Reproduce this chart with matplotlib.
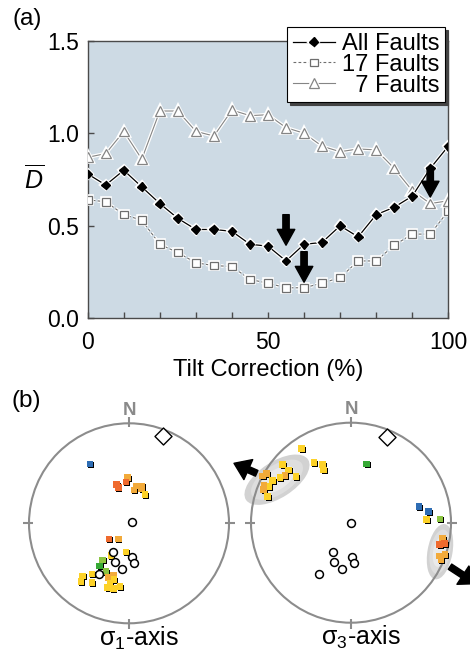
import numpy as np
import matplotlib
matplotlib.use('Agg')
import matplotlib.pyplot as plt
import matplotlib.patheffects as pe
from matplotlib.patches import Circle, Ellipse
from matplotlib.transforms import offset_copy

plt.rcParams['font.family'] = ['Liberation Sans', 'DejaVu Sans']
plt.rcParams['mathtext.fontset'] = 'custom'
plt.rcParams['mathtext.rm'] = 'Liberation Sans'
plt.rcParams['mathtext.it'] = 'Liberation Sans:italic'

# (a) mean misfit vs tilt correction
tilt = [0, 5, 10, 15, 20, 25, 30, 35, 40, 45, 50, 55, 60, 65, 70, 75, 80, 85, 90, 95, 100]
all_faults = [0.78, 0.72, 0.80, 0.71, 0.62, 0.54, 0.48, 0.48, 0.47, 0.40, 0.39, 0.31,
              0.40, 0.41, 0.50, 0.44, 0.56, 0.60, 0.66, 0.81, 0.93]
f17 = [0.64, 0.63, 0.56, 0.53, 0.40, 0.355, 0.30, 0.285, 0.28, 0.21, 0.19, 0.165,
       0.165, 0.19, 0.22, 0.31, 0.31, 0.395, 0.455, 0.455, 0.58]
f7 = [0.87, 0.89, 1.01, 0.86, 1.12, 1.12, 1.01, 0.985, 1.125, 1.095, 1.10, 1.03,
      1.00, 0.93, 0.90, 0.915, 0.91, 0.81, 0.69, 0.62, 0.635]
arrow_x = [55, 60, 95]
arrow_top = [0.56, 0.36, 0.815]
arrow_tip = [0.395, 0.195, 0.655]

# (b) stereonet points, unit circle
colors = {'y': '#fdd228', 'o': '#f2aa3a', 'r': '#ef6a2e', 'b': '#2e6db4',
          'g': '#36a935', 'lg': '#8bc541'}
s1_x = [-0.39, -0.013, -0.123, -0.107, -0.03, 0.07, 0.13, 0.05, 0.127, 0.16,
        -0.20, -0.107, -0.03, -0.18, -0.263, -0.293, -0.23, -0.37, -0.463, -0.48,
        -0.37, -0.157, -0.207, -0.15, -0.19, -0.217, -0.157, -0.09]
s1_y = [0.593, 0.457, 0.39, 0.36, 0.413, 0.373, 0.373, 0.333, 0.343, 0.29,
        -0.157, -0.157, -0.287, -0.323, -0.367, -0.427, -0.483, -0.507, -0.527, -0.583,
        -0.593, -0.517, -0.543, -0.56, -0.60, -0.643, -0.65, -0.633]
s1_c = ['b', 'o', 'r', 'r', 'r', 'o', 'o', 'o', 'o', 'y',
        'r', 'o', 'y', 'y', 'lg', 'g', 'lg', 'y', 'y', 'y',
        'y', 'o', 'o', 'y', 'y', 'y', 'y', 'y']
s1_open_x = [0.027, -0.157, -0.14, 0.03, 0.05, -0.07, -0.297]
s1_open_y = [0.01, -0.283, -0.387, -0.333, -0.393, -0.46, -0.51]

s3_x = [-0.493, -0.37, -0.287, -0.277, 0.157, -0.687, -0.627, -0.66, -0.71, -0.55,
        -0.843, -0.883, -0.787, -0.82, -0.87, -0.877, -0.837, 0.68, 0.773, 0.757,
        0.89, 0.917, 0.883, 0.933, 0.883, 0.94, 0.90]
s3_y = [0.743, 0.60, 0.583, 0.527, 0.587, 0.583, 0.527, 0.47, 0.45, 0.46,
        0.493, 0.467, 0.42, 0.36, 0.37, 0.333, 0.26, 0.16, 0.11, 0.033,
        0.037, -0.157, -0.217, -0.21, -0.333, -0.317, -0.373]
s3_c = ['y', 'y', 'y', 'y', 'g', 'y', 'y', 'o', 'y', 'y',
        'o', 'o', 'y', 'y', 'o', 'o', 'y', 'b', 'b', 'y',
        'lg', 'o', 'r', 'r', 'o', 'o', 'o']
s3_open_x = [0.003, -0.177, 0.01, -0.167, 0.03, -0.09, -0.32]
s3_open_y = [0.0, -0.29, -0.34, -0.39, -0.40, -0.467, -0.513]

diamond_pos = [(0.343, 0.877), (0.363, 0.86)]
# s3 extension directions: (tail, tip)
s3_arrows = [((-0.943, 0.494), (-1.17, 0.594)), ((0.99, -0.44), (1.25, -0.61))]
s3_blobs = [((-0.74, 0.43), 0.74, 0.36, 33), ((0.89, -0.29), 0.56, 0.25, 80)]

fig = plt.figure(figsize=(4.7, 6.55), dpi=100)

ax = fig.add_axes([0.1866, 0.514, 0.7672, 0.4239])
ax.set_facecolor('#cddae4')
halo = [pe.withStroke(linewidth=2.6, foreground='white')]
ax.plot(tilt, all_faults, '-', color='black', lw=0.9, marker='D', ms=4.5,
        mfc='black', mec='black', label='All Faults', path_effects=halo, zorder=4)
ax.plot(tilt, f17, '--', color='#6e6e6e', lw=0.8, dashes=(2.5, 2), marker='s', ms=5.5,
        mfc='white', mec='#6e6e6e', mew=0.9, label='17 Faults', path_effects=halo, zorder=3)
ax.plot(tilt, f7, '-', color='#858585', lw=0.8, marker='^', ms=7,
        mfc='white', mec='#858585', mew=0.9, label='  7 Faults', path_effects=halo, zorder=3)

for xa, yt, yb in zip(arrow_x, arrow_top, arrow_tip):
    ax.annotate('', xy=(xa, yb), xytext=(xa, yt),
                arrowprops=dict(arrowstyle='simple,head_length=0.95,head_width=1.05,tail_width=0.38',
                                mutation_scale=12, color='black', shrinkA=0, shrinkB=0),
                zorder=6)

ax.set_xlim(0, 100)
ax.set_ylim(0, 1.5)
ax.set_xticks(np.arange(0, 101, 10))
ax.set_xticklabels(['0', '', '', '', '', '50', '', '', '', '', '100'])
ax.set_yticks([0, 0.5, 1.0, 1.5])
ax.set_yticklabels(['0.0', '0.5', '1.0', '1.5'])
ax.tick_params(direction='in', length=4.5, width=1, color='#4a4a4a', labelsize=16.5)
ax.tick_params(axis='x', pad=9)
ax.tick_params(axis='y', pad=6)
for sp in ax.spines.values():
    sp.set_color('#4a4a4a')
    sp.set_linewidth(1.0)
ax.set_xlabel('Tilt Correction (%)', fontsize=17, labelpad=4)
ax.set_ylabel(r'$\overline{D}$', fontsize=18, rotation=0, va='center', ha='center')
ax.yaxis.set_label_coords(-0.149, 0.5)

leg = ax.legend(loc='upper right', bbox_to_anchor=(0.9468, 0.9588),
                bbox_transform=fig.transFigure, borderaxespad=0, fontsize=17,
                fancybox=False, framealpha=1, edgecolor='black',
                shadow={'color': '#444444', 'alpha': 1},
                labelspacing=-0.05, handlelength=1.75, handletextpad=0.3,
                borderpad=0.25)
leg.get_frame().set_linewidth(0.8)
leg.set_zorder(10)

fig.text(27 / 470, 1 - 19 / 655, '(a)', fontsize=17.5, ha='center', va='center')
fig.text(26 / 470, 1 - 401 / 655, '(b)', fontsize=17.5, ha='center', va='center')


def stereonet(axs, xs, ys, cs, ox, oy, diamond, label):
    axs.set_xlim(-1.2, 1.2)
    axs.set_ylim(-1.2, 1.2)
    axs.set_aspect('equal')
    axs.axis('off')
    axs.add_patch(Circle((0, 0), 1, fill=False, ec='#8c8c8c', lw=1.5, zorder=3))
    for ang in [0, 90, 180, 270]:
        a = np.deg2rad(ang)
        axs.plot([0.96 * np.cos(a), 1.06 * np.cos(a)], [0.96 * np.sin(a), 1.06 * np.sin(a)],
                 color='#8c8c8c', lw=1.5, zorder=3, solid_capstyle='butt')
    axs.text(0, 1.13, 'N', fontsize=13.5, fontweight='bold', color='#8a8a8a',
             ha='center', va='center')
    shadow_tr = offset_copy(axs.transData, fig=fig, x=1.2, y=-1.2, units='dots')
    axs.scatter(xs, ys, s=25, marker='s', c='black', linewidths=0, transform=shadow_tr, zorder=4)
    axs.scatter(xs, ys, s=25, marker='s', c=[colors[c] for c in cs], linewidths=0, zorder=5)
    axs.scatter(ox, oy, s=32, marker='o', facecolors='white', edgecolors='black',
                linewidths=1.1, zorder=6)
    axs.scatter([diamond[0]], [diamond[1]], s=75, marker='D', facecolors='white',
                edgecolors='black', linewidths=1.0, zorder=6)
    axs.text(0.1, -1.15, label, fontsize=18, ha='center', va='center')


ax1 = fig.add_axes([9 / 470, 1 - 643.3 / 655, 240 / 470, 240 / 655])
stereonet(ax1, s1_x, s1_y, s1_c, s1_open_x, s1_open_y, diamond_pos[0], 'σ$_1$-axis')

ax3 = fig.add_axes([231 / 470, 1 - 642.7 / 655, 240 / 470, 240 / 655])
for (cx, cy), w, h, ang in s3_blobs:
    for k, col in zip([1.0, 0.8, 0.55], ['#d2d2d2', '#dedede', '#eaeaea']):
        ax3.add_patch(Ellipse((cx, cy), w * k, h * k, angle=ang, fc=col, ec='none', zorder=1))
stereonet(ax3, s3_x, s3_y, s3_c, s3_open_x, s3_open_y, diamond_pos[1], 'σ$_3$-axis')
for tail, tip in s3_arrows:
    ax3.annotate('', xy=tip, xytext=tail, annotation_clip=False,
                 arrowprops=dict(arrowstyle='simple,head_length=0.75,head_width=1.05,tail_width=0.3',
                                 mutation_scale=15, color='black', shrinkA=0, shrinkB=0),
                 zorder=7)

fig.savefig('out.png', dpi=100)
